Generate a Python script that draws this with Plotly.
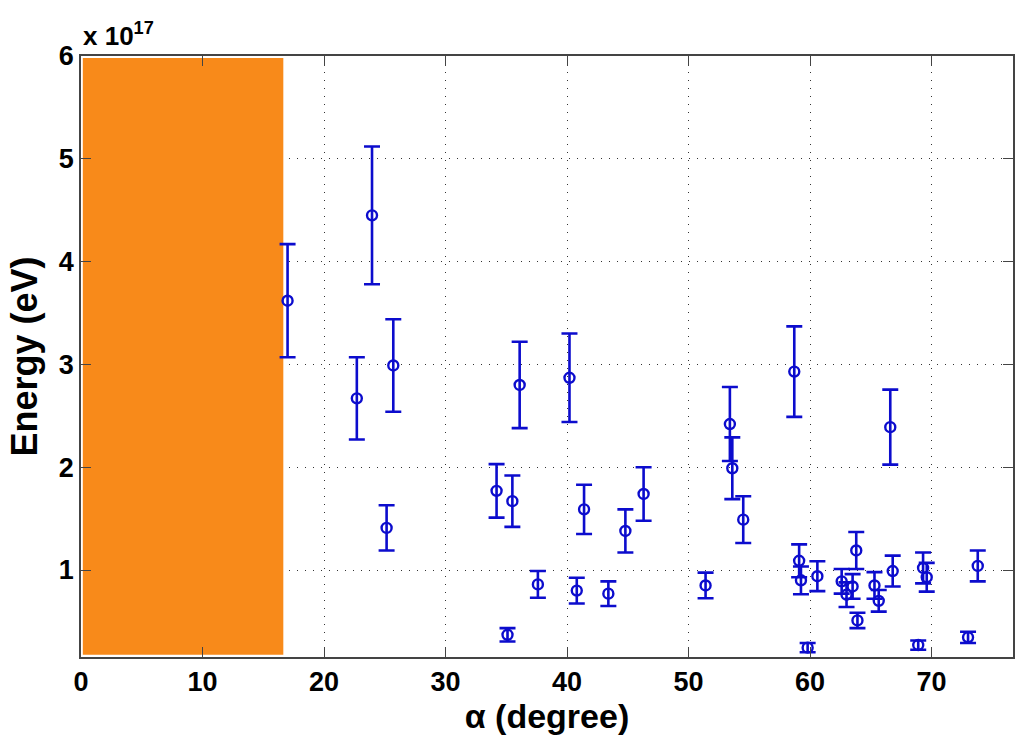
import plotly.graph_objects as go

# Arrival angle alpha (degree), energy (units of 1e17 eV) and its uncertainty
alpha_deg = [17.0, 22.7, 23.95, 25.15, 25.7, 34.2, 35.1, 35.5, 36.1, 37.6,
             40.2, 40.8, 41.4, 43.4, 44.8, 46.3, 51.4, 53.4, 53.6, 54.5,
             58.7, 59.1, 59.25, 59.8, 60.6, 62.6, 63.0, 63.5, 63.8, 63.9,
             65.3, 65.65, 66.6, 66.8, 68.9, 69.3, 69.6, 73.0, 73.8]
energy_e17 = [3.62, 2.67, 4.45, 1.41, 2.99, 1.77, 0.37, 1.67, 2.80, 0.86,
              2.87, 0.80, 1.59, 0.77, 1.38, 1.74, 0.85, 2.42, 1.99, 1.49,
              2.93, 1.09, 0.90, 0.245, 0.94, 0.89, 0.76, 0.84, 1.19, 0.51,
              0.85, 0.70, 2.39, 0.99, 0.27, 1.02, 0.93, 0.345, 1.04]
energy_err_e17 = [0.55, 0.40, 0.67, 0.22, 0.45, 0.26, 0.065, 0.25, 0.42, 0.13,
                  0.43, 0.125, 0.24, 0.12, 0.21, 0.26, 0.125, 0.36, 0.30, 0.227,
                  0.44, 0.16, 0.135, 0.045, 0.145, 0.12, 0.12, 0.12, 0.18, 0.075,
                  0.13, 0.105, 0.365, 0.15, 0.045, 0.15, 0.14, 0.055, 0.15]

# Excluded angular region
excluded_alpha = [0.15, 16.65]
excluded_energy = [0.176, 5.98]

x_ticks = [0, 10, 20, 30, 40, 50, 60, 70]
y_ticks = [1, 2, 3, 4, 5, 6]
y_tick_text = ["1", "2", "3", "4", "5", "6"]

BLUE = "rgb(12,12,205)"
ORANGE = "#f88a1a"
FONT = "Liberation Sans, Arial, sans-serif"

fig = go.Figure()
fig.add_trace(go.Scatter(
    x=alpha_deg, y=energy_e17, mode="markers",
    marker=dict(symbol="circle-open", size=10, color=BLUE, line=dict(width=2.4, color=BLUE)),
    error_y=dict(type="data", array=energy_err_e17, visible=True,
                 color=BLUE, thickness=2.6, width=8),
    showlegend=False,
))

fig.add_shape(type="rect", xref="x", yref="y",
              x0=excluded_alpha[0], x1=excluded_alpha[1],
              y0=excluded_energy[0], y1=excluded_energy[1],
              fillcolor=ORANGE, line=dict(width=0), layer="between")

axis_common = dict(
    showline=True, linecolor="#444", linewidth=1.5, mirror="allticks",
    ticks="inside", ticklen=10, tickwidth=1.3, tickcolor="#444",
    showgrid=True, gridcolor="#333", gridwidth=1, griddash="1px,7px",
    zeroline=False,
    tickfont=dict(family=FONT, size=27, color="black", weight="bold"),
)

fig.update_xaxes(range=[0, 76.7], tickvals=x_ticks, **axis_common,
                 title=dict(text="α (degree)", standoff=6,
                            font=dict(family=FONT, size=34, color="black", weight="bold")))
fig.update_yaxes(range=[0.154, 6], tickvals=y_ticks, ticktext=y_tick_text, **axis_common,
                 title=dict(text="Energy (eV)", standoff=10,
                            font=dict(family=FONT, size=36, color="black", weight="bold")))

fig.add_annotation(xref="paper", yref="paper", x=0, y=1, xanchor="left", yanchor="bottom",
                   yshift=3, showarrow=False, text="<b>x 10<sup>17</sup></b>",
                   font=dict(family=FONT, size=26, color="black"))

fig.update_layout(
    width=1015, height=735,
    margin=dict(l=81, r=0, t=56, b=78),
    paper_bgcolor="white", plot_bgcolor="white",
)

fig.write_html("out.html")
